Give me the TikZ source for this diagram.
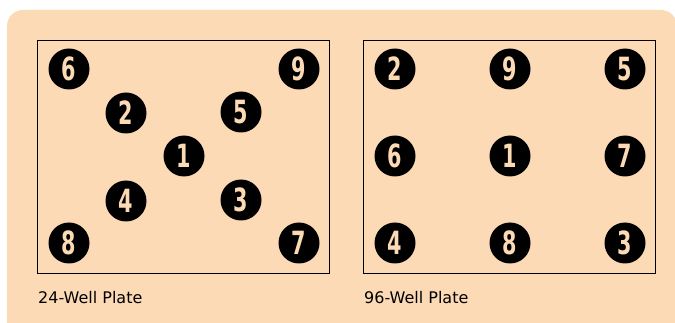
\documentclass[tikz,border=0pt]{standalone}
\usepackage{fontspec}
\setmainfont{DejaVu Sans}
\newfontfamily\wellfont{DejaVu Sans Condensed}
\definecolor{peach}{RGB}{253,218,182}
\newcommand\wellnum[1]{\scalebox{0.72}[1]{#1}}
\tikzset{
  well/.style={circle,fill=black,inner sep=0pt,minimum size=41pt,
    text=peach,font=\wellfont\bfseries\fontsize{32}{32}\selectfont},
  plate/.style={draw=black,line width=0.8pt},
  platelabel/.style={anchor=base west,inner sep=0pt,font=\fontsize{16}{18}\selectfont}
}
\begin{document}
\begin{tikzpicture}[x=1pt,y=-1pt]
  \useasboundingbox (0,0) rectangle (675,323);
  % background panel, cut at right and bottom
  \begin{scope}
    \clip (0,0) rectangle (675,323);
    \fill[peach,rounded corners=16pt] (7,10) rectangle (677,345);
  \end{scope}
  % 24-well plate
  \draw[plate] (37,40) rectangle (329,273);
  \foreach \n/\x/\y in {6/69/69, 9/299/69, 2/126/113, 5/241/112, 1/184/156,
                        4/126/201, 3/241/200, 8/69/243, 7/299/243}{
    \node[well] (a\n) at (\x,\y) {\wellnum{\n}};
  }
  \node[platelabel] (lab24) at (38,304) {24-Well Plate};
  % 96-well plate
  \draw[plate] (363,40) rectangle (655,273);
  \foreach \n/\x/\y in {2/395/69, 9/510/69, 5/625/69, 6/395/156, 1/510/156,
                        7/625/156, 4/395/243, 8/510/243, 3/625/243}{
    \node[well] (b\n) at (\x,\y) {\wellnum{\n}};
  }
  \node[platelabel] (lab96) at (364,304) {96-Well Plate};
\end{tikzpicture}
\end{document}
